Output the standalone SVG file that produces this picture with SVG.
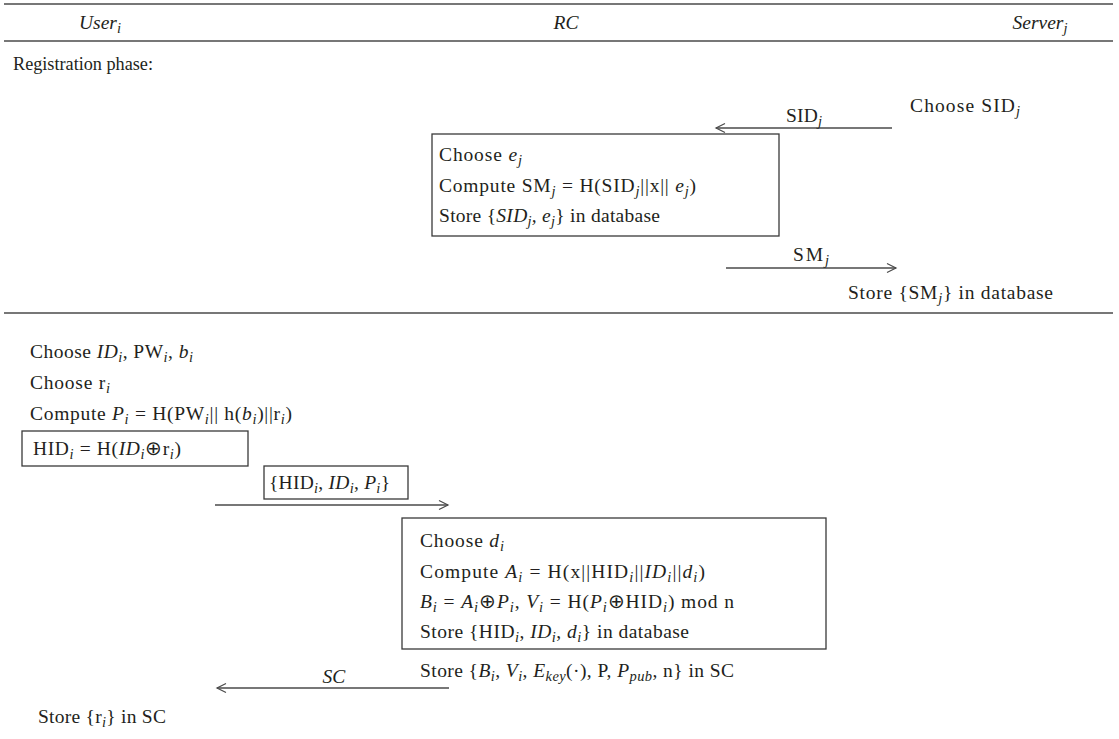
<svg xmlns="http://www.w3.org/2000/svg" width="1119" height="739" viewBox="0 0 1119 739">
<style>
text{font-family:"Liberation Serif","Times New Roman",serif;font-size:19.5px;fill:#231f20}
.i{font-style:italic}
.s{font-size:14.5px}
.ln{stroke:#4a4a4a;stroke-width:1.6;fill:none}
.bx{stroke:#3a3a3a;stroke-width:1.3;fill:none}
.ar{stroke:#4a4a4a;stroke-width:1.4;fill:none;marker-end:url(#ah)}
</style>
<defs>
<marker id="ah" markerWidth="12" markerHeight="12" refX="10" refY="6" orient="auto" markerUnits="userSpaceOnUse">
<path d="M1,1.5 L10,6 L1,10.5" fill="none" stroke="#4a4a4a" stroke-width="1.2"/>
</marker>
</defs>
<rect width="1119" height="739" fill="#fff"/>
<g id="frame">
<line class="ln" x1="4" y1="4" x2="1113" y2="4"/>
<line class="ln" x1="4" y1="41" x2="1113" y2="41"/>
<line class="ln" x1="4" y1="313" x2="1113" y2="313"/>
</g>
<g id="headers">
<text x="100" y="29" text-anchor="middle" class="i">User<tspan class="s" dy="4">i</tspan></text>
<text x="566" y="29" text-anchor="middle" class="i">RC</text>
<text x="1040" y="29" text-anchor="middle" class="i">Server<tspan class="s" dy="4">j</tspan></text>
<text x="13" y="70" textLength="140" lengthAdjust="spacingAndGlyphs">Registration phase:</text>
</g>
<g id="connectors">
<line class="ar" x1="892" y1="128" x2="716" y2="128"/>
<line class="ar" x1="726" y1="268" x2="896" y2="268"/>
<line class="ar" x1="215" y1="505" x2="448" y2="505"/>
<line class="ar" x1="449" y1="688" x2="217" y2="688"/>
<text x="786" y="122" textLength="36">SID<tspan class="s i" dy="4">j</tspan></text>
<text x="793" y="261" textLength="36">SM<tspan class="s i" dy="4">j</tspan></text>
<text x="334" y="683" text-anchor="middle" class="i">SC</text>
</g>
<g id="server-choose">
<text x="910" y="112" textLength="110">Choose SID<tspan class="s i" dy="4">j</tspan></text>
</g>
<g id="rc-server-box">
<rect class="bx" x="432" y="134" width="347" height="102"/>
<text x="439" y="161" textLength="83">Choose <tspan class="i">e</tspan><tspan class="s i" dy="4">j</tspan></text>
<text x="439" y="192" textLength="257">Compute SM<tspan class="s i" dy="4">j</tspan><tspan dy="-4"> = H(SID</tspan><tspan class="s i" dy="4">j</tspan><tspan dy="-4">||x|| </tspan><tspan class="i">e</tspan><tspan class="s i" dy="4">j</tspan><tspan dy="-4">)</tspan></text>
<text x="439" y="222" textLength="221">Store {<tspan class="i">SID</tspan><tspan class="s i" dy="4">j</tspan><tspan dy="-4" class="i">, e</tspan><tspan class="s i" dy="4">j</tspan><tspan dy="-4">} in database</tspan></text>
</g>
<g id="server-store">
<text x="848" y="299" textLength="205">Store {SM<tspan class="s i" dy="4">j</tspan><tspan dy="-4">} in database</tspan></text>
</g>
<g id="user-steps">
<text x="30" y="358" textLength="163">Choose <tspan class="i">ID</tspan><tspan class="s i" dy="4">i</tspan><tspan dy="-4">, PW</tspan><tspan class="s i" dy="4">i</tspan><tspan dy="-4">, </tspan><tspan class="i">b</tspan><tspan class="s i" dy="4">i</tspan></text>
<text x="30" y="389" textLength="80">Choose r<tspan class="s i" dy="4">i</tspan></text>
<text x="30" y="420" textLength="262">Compute <tspan class="i">P</tspan><tspan class="s i" dy="4">i</tspan><tspan dy="-4"> = H(PW</tspan><tspan class="s i" dy="4">i</tspan><tspan dy="-4">|| h(</tspan><tspan class="i">b</tspan><tspan class="s i" dy="4">i</tspan><tspan dy="-4">)||r</tspan><tspan class="s i" dy="4">i</tspan><tspan dy="-4">)</tspan></text>
</g>
<g id="hid-box">
<rect class="bx" x="22" y="431" width="226" height="35"/>
<text x="33" y="455" textLength="148">HID<tspan class="s i" dy="4">i</tspan><tspan dy="-4"> = H(</tspan><tspan class="i">ID</tspan><tspan class="s i" dy="4">i</tspan><tspan dy="-4">⊕r</tspan><tspan class="s i" dy="4">i</tspan><tspan dy="-4">)</tspan></text>
</g>
<g id="msg-box">
<rect class="bx" x="264" y="466" width="144" height="33"/>
<text x="269" y="489" textLength="121">{HID<tspan class="s i" dy="4">i</tspan><tspan dy="-4">, </tspan><tspan class="i">ID</tspan><tspan class="s i" dy="4">i</tspan><tspan dy="-4">, </tspan><tspan class="i">P</tspan><tspan class="s i" dy="4">i</tspan><tspan dy="-4">}</tspan></text>
</g>
<g id="rc-user-box">
<rect class="bx" x="402" y="518" width="424" height="131"/>
<text x="420" y="547" textLength="84">Choose <tspan class="i">d</tspan><tspan class="s i" dy="4">i</tspan></text>
<text x="420" y="578" textLength="285">Compute <tspan class="i">A</tspan><tspan class="s i" dy="4">i</tspan><tspan dy="-4"> = H(x||HID</tspan><tspan class="s i" dy="4">i</tspan><tspan dy="-4">||</tspan><tspan class="i">ID</tspan><tspan class="s i" dy="4">i</tspan><tspan dy="-4">||</tspan><tspan class="i">d</tspan><tspan class="s i" dy="4">i</tspan><tspan dy="-4">)</tspan></text>
<text x="420" y="608" textLength="314"><tspan class="i">B</tspan><tspan class="s i" dy="4">i</tspan><tspan dy="-4"> = </tspan><tspan class="i">A</tspan><tspan class="s i" dy="4">i</tspan><tspan dy="-4">⊕</tspan><tspan class="i">P</tspan><tspan class="s i" dy="4">i</tspan><tspan dy="-4">, </tspan><tspan class="i">V</tspan><tspan class="s i" dy="4">i</tspan><tspan dy="-4"> = H(</tspan><tspan class="i">P</tspan><tspan class="s i" dy="4">i</tspan><tspan dy="-4">⊕HID</tspan><tspan class="s i" dy="4">i</tspan><tspan dy="-4">) mod n</tspan></text>
<text x="420" y="638" textLength="269">Store {HID<tspan class="s i" dy="4">i</tspan><tspan dy="-4">, </tspan><tspan class="i">ID</tspan><tspan class="s i" dy="4">i</tspan><tspan dy="-4">, </tspan><tspan class="i">d</tspan><tspan class="s i" dy="4">i</tspan><tspan dy="-4">} in database</tspan></text>
</g>
<g id="rc-store-sc">
<text x="420" y="677" textLength="314">Store {<tspan class="i">B</tspan><tspan class="s i" dy="4">i</tspan><tspan dy="-4">, </tspan><tspan class="i">V</tspan><tspan class="s i" dy="4">i</tspan><tspan dy="-4">, </tspan><tspan class="i">E</tspan><tspan class="s i" dy="4">key</tspan><tspan dy="-4">(·), P, </tspan><tspan class="i">P</tspan><tspan class="s i" dy="4">pub</tspan><tspan dy="-4">, n} in SC</tspan></text>
</g>
<g id="user-store-sc">
<text x="38" y="723" textLength="128">Store {r<tspan class="s i" dy="4">i</tspan><tspan dy="-4">} in SC</tspan></text>
</g>
</svg>
